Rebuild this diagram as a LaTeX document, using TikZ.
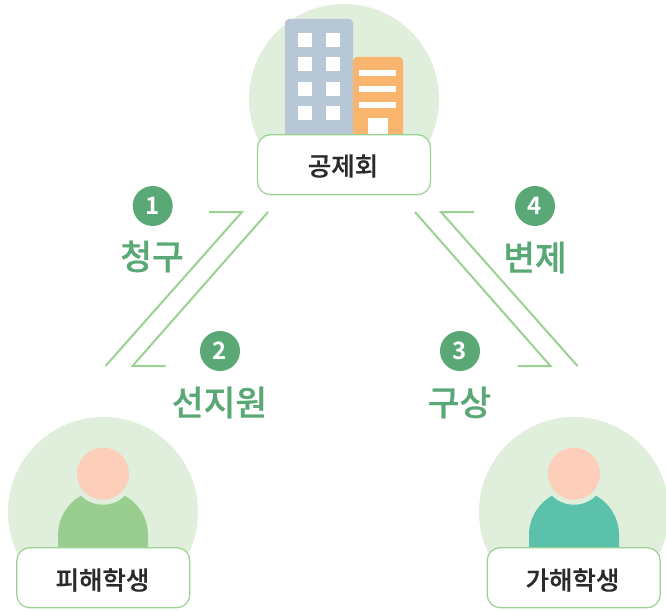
\documentclass[tikz,border=0pt]{standalone}
\usepackage{fontspec}
\newfontfamily\cjk[FakeBold=0.6]{Noto Sans CJK KR Medium}
\newfontfamily\cjkb{Noto Sans CJK KR Bold}
\setmainfont{Liberation Sans}
\definecolor{bgc}{HTML}{E0EEDC}
\definecolor{edgec}{HTML}{9BD192}
\definecolor{greenc}{HTML}{5AA875}
\definecolor{bluec}{HTML}{B8C7D5}
\definecolor{orangec}{HTML}{F9B56D}
\definecolor{skinc}{HTML}{FDCEBA}
\definecolor{bodya}{HTML}{99CE90}
\definecolor{bodyb}{HTML}{5BC1AB}
\definecolor{inkc}{HTML}{2A2A2A}
\tikzset{
  x=1pt,y=-1pt,
  halo/.style={fill=bgc,draw=none},
  namebox/.style={draw=edgec,line width=1.2pt,fill=white,rounded corners=13pt,minimum width=173pt,minimum height=60pt,inner sep=0pt},
  nametext/.style={inner sep=0pt,text=inkc,font=\cjk\fontsize{25.5}{30}\selectfont},
  badge/.style={circle,fill=greenc,minimum size=40pt,inner sep=0pt,text=white,font=\cjkb\fontsize{24}{28}\selectfont},
  steplabel/.style={text=greenc,inner sep=0pt,font=\cjk\fontsize{34.5}{40}\selectfont},
  flow/.style={draw=edgec,line width=2pt,line join=miter},
  win/.style={fill=white,draw=none}
}
\newcommand{\person}[2]{%
  \fill[#2] (#1-45,548) -- (#1-45,535) arc[start angle=180,end angle=360,x radius=45,y radius=45] -- (#1+45,548) -- cycle;
  \fill[bgc] (#1,473.7) circle[radius=31];
  \fill[skinc] (#1,473.7) circle[radius=26];
}
\begin{document}
\begin{tikzpicture}
\useasboundingbox (0,0) rectangle (666,610);
\begin{scope}
\clip (0,0) rectangle (666,610);
\fill[halo] (344,99) circle[radius=95];
\fill[halo] (103,512) circle[radius=95];
\fill[halo] (574,512) circle[radius=95];
\end{scope}
% buildings
\fill[bluec,rounded corners=4pt] (285,140) -- (285,19) -- (353,19) -- (353,140) -- cycle;
\fill[orangec,rounded corners=4pt] (353,140) -- (353,57) -- (403,57) -- (403,140) -- cycle;
\foreach \wy in {33,57,82,106}{
  \fill[win] (298,\wy) rectangle (312,\wy+14);
  \fill[win] (326,\wy) rectangle (340,\wy+14);
}
\foreach \wy in {70,86,102}{
  \fill[win] (359,\wy) rectangle (396,\wy+6);
}
\fill[win] (368,118) rectangle (388,140);
% people
\person{103}{bodya}
\person{574}{bodyb}
% boxes
\node[namebox] (org) at (344,164.7) {};
\node[namebox] (victim) at (103.3,577.7) {};
\node[namebox] (offender) at (573.7,577.7) {};
\node[nametext] (orgt) at (343,166) {공제회};
\node[nametext] (victimt) at (102.5,580) {피해학생};
\node[nametext] (offendert) at (572.5,580) {가해학생};
% flows
\coordinate (a1) at (209,212); \coordinate (a2) at (242,212); \coordinate (a3) at (105.5,366);
\coordinate (b1) at (268,212); \coordinate (b2) at (132.5,366); \coordinate (b3) at (165.5,366);
\coordinate (c1) at (415,212); \coordinate (c2) at (550.5,366); \coordinate (c3) at (517.5,366);
\coordinate (d1) at (474,212); \coordinate (d2) at (441,212); \coordinate (d3) at (577.5,366);
\draw[flow] (a1) -- (a2) -- (a3);
\draw[flow] (b1) -- (b2) -- (b3);
\draw[flow] (c1) -- (c2) -- (c3);
\draw[flow] (d1) -- (d2) -- (d3);
% badges and labels
\node[badge] (n1) at (152.7,206) {1};
\node[badge] (n2) at (220,351) {2};
\node[badge] (n3) at (460,351) {3};
\node[badge] (n4) at (535,206) {4};
\node[steplabel] (l1) at (152,256.5) {청구};
\node[steplabel] (l2) at (219.5,402.5) {선지원};
\node[steplabel] (l3) at (459.5,402.5) {구상};
\node[steplabel] (l4) at (535,257.5) {변제};
\end{tikzpicture}
\end{document}
